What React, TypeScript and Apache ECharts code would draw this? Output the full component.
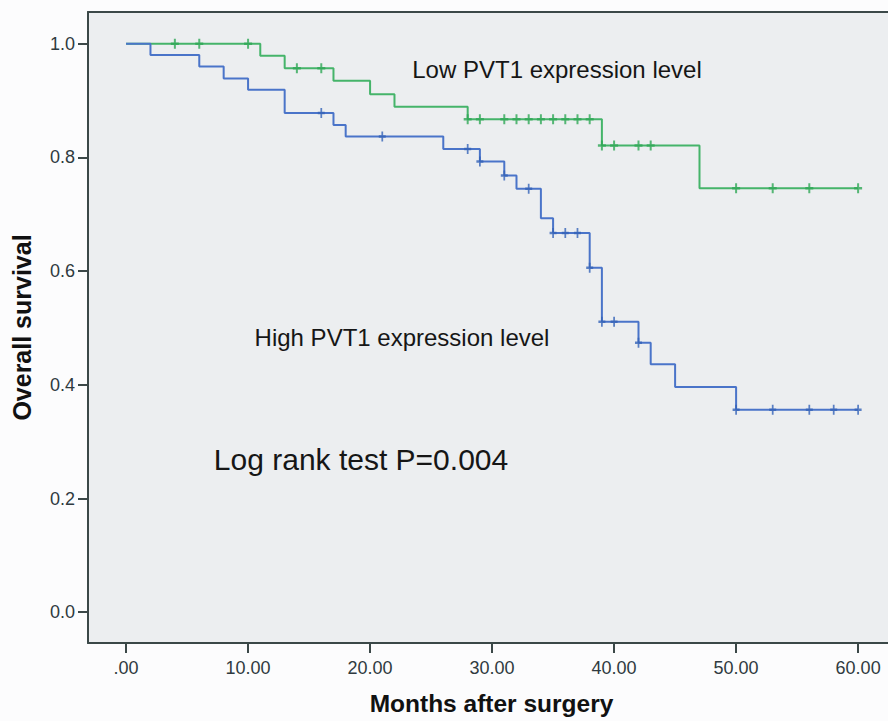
import React, { useEffect, useRef } from "react";
import * as echarts from "echarts";

// Kaplan–Meier step points (time in months, cumulative survival)
const lowTimes = [0, 11, 13, 17, 20, 22, 28, 39, 47, 60];
const lowSurv = [1.0, 0.979, 0.957, 0.935, 0.911, 0.889, 0.867, 0.821, 0.746, 0.746];
const lowCensored = [4, 6, 10, 14, 16, 28, 29, 31, 32, 33, 34, 35, 36, 37, 38, 39, 40, 42, 43, 50, 53, 56, 60];

const highTimes = [0, 2, 6, 8, 10, 13, 17, 18, 26, 29, 31, 32, 34, 35, 38, 39, 42, 43, 45, 50, 60];
const highSurv = [1.0, 0.98, 0.96, 0.939, 0.919, 0.878, 0.857, 0.837, 0.815, 0.793, 0.768, 0.745, 0.693, 0.667, 0.606, 0.511, 0.474, 0.436, 0.396, 0.356, 0.356];
const highCensored = [16, 21, 28, 29, 31, 33, 35, 36, 37, 38, 39, 40, 42, 50, 53, 56, 58, 60];

const xTickValues = [0, 10, 20, 30, 40, 50, 60];
const xTickLabels = [".00", "10.00", "20.00", "30.00", "40.00", "50.00", "60.00"];
const yTickValues = [0, 0.2, 0.4, 0.6, 0.8, 1.0];
const yTickLabels = ["0.0", "0.2", "0.4", "0.6", "0.8", "1.0"];

const lowLabel = "Low PVT1 expression level";
const highLabel = "High PVT1 expression level";
const testLabel = "Log rank test P=0.004";

const FONT = "'Liberation Sans', Arial, sans-serif";
const GREEN = "#45b46a";
const BLUE = "#4a74c9";
const FRAME = "#3b4848";

const X_MIN = -3.12;
const X_MAX = 62.45;

const stepAt = (times: number[], surv: number[], t: number) => {
  let v = surv[0];
  for (let i = 0; i < times.length; i++) if (times[i] <= t) v = surv[i];
  return v;
};

const plusSymbol =
  "path://M-0.25,-1 L0.25,-1 L0.25,-0.25 L1,-0.25 L1,0.25 L0.25,0.25 L0.25,1 L-0.25,1 L-0.25,0.25 L-1,0.25 L-1,-0.25 L-0.25,-0.25 Z";

export default function App() {
  const ref = useRef<HTMLDivElement>(null);
  useEffect(() => {
    if (!ref.current) return;
    const chart = echarts.init(ref.current, undefined, { renderer: "svg" });
    const lowLine = lowTimes.map((t, i) => [t, lowSurv[i]]);
    const highLine = highTimes.map((t, i) => [t, highSurv[i]]);
    const lowC = lowCensored.map((t) => [t, stepAt(lowTimes, lowSurv, t)]);
    const highC = highCensored.map((t) => [t, stepAt(highTimes, highSurv, t)]);
    chart.setOption({
      animation: false,
      backgroundColor: "#fcfcfd",
      grid: {
        left: 88,
        top: 12,
        right: 0,
        bottom: 73,
        show: true,
        backgroundColor: "#eceef0",
        borderWidth: 0,
      },
      xAxis: [
        {
          type: "value",
          min: X_MIN,
          max: X_MAX,
          name: "Months after surgery",
          nameLocation: "middle",
          nameGap: 48,
          nameTextStyle: {
            fontFamily: FONT,
            fontWeight: "bold",
            fontSize: 24.5,
            color: "#111",
            padding: [0, 0, 0, 7],
          },
          splitLine: { show: false },
          axisLine: { show: true, onZero: false, lineStyle: { color: FRAME, width: 2 } },
          axisTick: {
            show: true,
            length: 10,
            customValues: xTickValues,
            lineStyle: { color: FRAME, width: 2 },
          },
          axisLabel: {
            customValues: xTickValues,
            formatter: (v: number) => xTickLabels[xTickValues.indexOf(Math.round(v))] ?? "",
            fontFamily: FONT,
            fontSize: 18,
            color: "#2f3a40",
            margin: 16,
          },
        },
        {
          type: "value",
          position: "top",
          min: X_MIN,
          max: X_MAX,
          splitLine: { show: false },
          axisLine: { show: true, onZero: false, lineStyle: { color: FRAME, width: 2 } },
          axisTick: { show: false },
          axisLabel: { show: false },
        },
      ],
      yAxis: {
        type: "value",
        min: -0.0541,
        max: 1.0558,
        name: "Overall survival",
        nameLocation: "middle",
        nameGap: 54,
        nameTextStyle: { fontFamily: FONT, fontWeight: "bold", fontSize: 25, color: "#111" },
        splitLine: { show: false },
        axisLine: { show: true, onZero: false, lineStyle: { color: FRAME, width: 2 } },
        axisTick: {
          show: true,
          length: 10,
          customValues: yTickValues,
          lineStyle: { color: FRAME, width: 2 },
        },
        axisLabel: {
          customValues: yTickValues,
          formatter: (v: number) => {
            const i = yTickValues.findIndex((y) => Math.abs(y - v) < 1e-6);
            return i >= 0 ? yTickLabels[i] : "";
          },
          fontFamily: FONT,
          fontSize: 18,
          color: "#2f3a40",
          margin: 13,
        },
      },
      series: [
        {
          type: "line",
          name: "Low",
          step: "end",
          data: lowLine,
          showSymbol: false,
          lineStyle: { color: GREEN, width: 2 },
          z: 2,
        },
        {
          type: "line",
          name: "High",
          step: "end",
          data: highLine,
          showSymbol: false,
          lineStyle: { color: BLUE, width: 2 },
          z: 2,
        },
        {
          type: "scatter",
          data: lowC,
          symbol: plusSymbol,
          symbolSize: [8, 10],
          itemStyle: { color: "#2fa856" },
          z: 3,
        },
        {
          type: "scatter",
          data: highC,
          symbol: plusSymbol,
          symbolSize: [7, 10],
          itemStyle: { color: "#3563b8" },
          z: 3,
        },
      ],
      graphic: [
        {
          type: "text",
          x: 557,
          y: 69,
          style: {
            text: lowLabel,
            fontFamily: FONT,
            fontSize: 24,
            fill: "#161616",
            align: "center",
            verticalAlign: "middle",
          },
          z: 10,
        },
        {
          type: "text",
          x: 402,
          y: 337,
          style: {
            text: highLabel,
            fontFamily: FONT,
            fontSize: 24,
            fill: "#161616",
            align: "center",
            verticalAlign: "middle",
          },
          z: 10,
        },
        {
          type: "text",
          x: 361,
          y: 459,
          style: {
            text: testLabel,
            fontFamily: FONT,
            fontSize: 30,
            fill: "#161616",
            align: "center",
            verticalAlign: "middle",
          },
          z: 10,
        },
      ],
    });
    return () => chart.dispose();
  }, []);
  return (
    <div
      ref={ref}
      style={{ position: "fixed", left: 0, top: 0, width: 888, height: 721 }}
    />
  );
}
